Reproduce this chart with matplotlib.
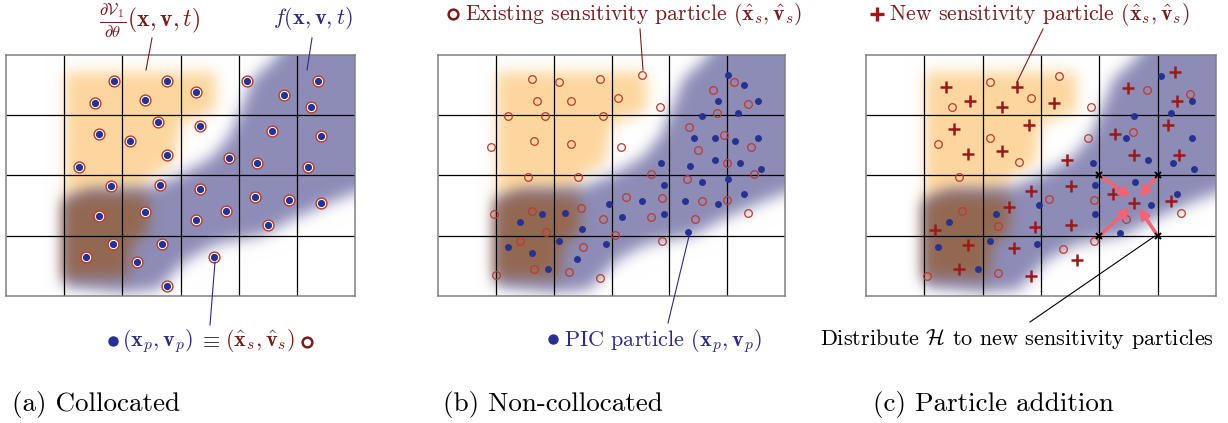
import numpy as np
import matplotlib
matplotlib.use("Agg")
import matplotlib.pyplot as plt
from matplotlib.path import Path

plt.rcParams['mathtext.fontset'] = 'cm'
plt.rcParams['font.family'] = 'cmr10'

# grid of cells (x: 6 columns, y: 4 rows)
ncols, nrows = 6, 4

# (a) collocated particles
a_x = [1.86, 2.76, 3.26, 1.53, 2.39, 4.15, 4.78, 5.36, 5.25, 2.62, 3.33, 1.60, 2.14,
       2.76, 4.58, 5.42, 1.25, 3.84, 4.32, 5.20, 1.80, 2.64, 3.33, 4.28, 4.86, 5.42,
       1.60, 2.39, 3.79, 3.26, 4.51, 1.84, 2.69, 1.38, 2.26, 3.57, 2.76]
a_y = [3.57, 3.57, 3.39, 3.21, 3.26, 3.57, 3.34, 3.57, 3.13, 2.89, 2.82, 2.69, 2.58,
       2.34, 2.74, 2.66, 2.14, 2.29, 2.21, 2.14, 1.83, 1.85, 1.77, 1.65, 1.59, 1.55,
       1.33, 1.39, 1.41, 1.26, 1.18, 0.86, 0.86, 0.64, 0.57, 0.64, 0.17]

# (b) sensitivity particles (circles) and PIC particles (dots)
b_circ_x = [1.62, 2.10, 2.80, 3.53, 1.71, 2.30, 3.11, 3.83, 1.21, 1.85, 2.85, 0.91, 1.66,
            2.30, 3.16, 1.56, 2.42, 0.97, 1.62, 2.47, 1.86, 1.41, 2.51, 2.85, 3.06, 1.66,
            2.26, 1.01, 2.80, 3.25, 3.68, 3.87, 3.68, 3.87, 4.76, 5.11, 5.36, 4.82, 4.34,
            4.94, 4.49, 5.41, 4.99, 5.46, 4.30, 4.57, 4.99, 4.44, 5.36]
b_circ_y = [3.60, 3.55, 3.60, 3.66, 3.23, 3.23, 3.28, 3.13, 2.98, 2.98, 2.98, 2.48, 2.57,
            2.52, 2.48, 1.97, 1.97, 1.36, 1.41, 1.46, 1.07, 0.92, 0.82, 1.27, 1.01, 0.45,
            0.40, 0.35, 0.30, 1.64, 2.03, 1.62, 1.31, 0.92, 3.42, 3.55, 3.18, 3.03, 2.80,
            2.67, 2.42, 2.48, 2.21, 2.03, 1.94, 1.57, 1.59, 1.27, 1.38]
b_dot_x = [5.02, 5.29, 4.84, 5.53, 4.57, 5.18, 4.42, 4.79, 5.14, 5.53, 3.85, 4.36, 4.79,
           5.23, 5.58, 3.90, 4.57, 5.02, 2.96, 3.53, 3.90, 4.27, 4.84, 5.29, 1.80, 2.19,
           1.41, 2.49, 3.18, 2.10, 2.90, 4.32, 1.21, 1.62, 2.40, 1.90]
b_dot_y = [3.66, 3.51, 3.24, 3.24, 2.98, 3.03, 2.63, 2.63, 2.58, 2.63, 2.21, 2.16, 2.26,
           2.21, 2.11, 1.85, 1.89, 1.94, 1.52, 1.57, 1.36, 1.57, 1.52, 1.70, 1.36, 1.37,
           1.23, 1.11, 1.31, 0.92, 0.87, 1.07, 0.82, 0.72, 0.61, 0.45]

# (c) new sensitivity particles (plus), existing (circles), PIC (dots)
c_plus_x = [1.37, 2.59, 1.78, 2.33, 3.22, 1.51, 2.79, 1.75, 2.33, 3.44, 4.49, 5.30, 5.33,
            4.27, 5.17, 4.60, 5.37, 3.52, 2.82, 4.24, 4.60, 5.22, 2.45, 1.19, 2.89, 3.52,
            1.75, 2.53, 3.61, 1.59, 2.82]
c_plus_y = [3.47, 3.47, 3.23, 3.13, 3.20, 2.78, 2.84, 2.36, 2.41, 2.25, 3.45, 3.71, 3.23,
            2.69, 2.84, 2.34, 2.34, 1.83, 1.75, 1.70, 1.55, 1.58, 1.48, 1.10, 1.15, 1.18,
            0.85, 0.79, 0.60, 0.44, 0.34]
c_circ_x = [2.12, 3.31, 1.48, 2.83, 3.86, 2.13, 1.24, 2.63, 1.59, 3.81, 4.81, 5.56, 4.57,
            1.64, 3.14, 3.91, 4.46, 2.27, 3.37, 3.91, 1.04, 2.27, 5.40]
c_circ_y = [3.55, 3.65, 3.13, 3.28, 3.13, 2.62, 2.52, 2.22, 1.97, 2.62, 3.42, 3.36, 2.72,
            1.41, 1.61, 1.60, 1.27, 1.16, 0.78, 0.91, 0.34, 0.39, 1.37]
c_dot_x = [5.05, 5.58, 4.60, 5.22, 4.45, 5.58, 3.89, 4.83, 5.27, 5.62, 3.93, 4.61, 2.97,
           2.22, 3.93, 4.89, 5.33, 1.43, 4.35, 1.23, 2.12, 2.93, 1.92]
c_dot_y = [3.65, 3.23, 2.98, 3.03, 2.63, 2.63, 2.21, 2.25, 2.21, 2.11, 1.84, 1.89, 1.51,
           1.36, 1.36, 1.51, 1.70, 1.22, 1.05, 0.81, 0.92, 0.86, 0.44]

# grid nodes that distribute H, and where their arrows point
node_x = [4, 5, 4, 5]
node_y = [2, 2, 1, 1]
head_x = [4.54, 4.68, 4.53, 4.68]
head_y = [1.64, 1.64, 1.47, 1.46]

# density blobs (cell units)
orange_poly = [(1.0, 3.7), (3.6, 3.7), (3.6, 3.05), (3.0, 2.85), (2.9, 2.2), (2.45, 1.95),
               (2.45, 0.3), (1.0, 0.3)]
purple_poly = [(1.0, 0.15), (2.0, 0.05), (2.6, 0.1), (3.1, 0.6), (3.6, 0.85), (4.4, 1.0),
               (5.0, 1.3), (5.6, 1.55), (6.4, 1.85), (6.4, 4.4), (5.0, 4.4), (4.6, 3.9),
               (4.25, 3.6), (4.05, 3.1), (3.85, 2.65), (3.55, 2.3), (3.0, 2.0), (2.5, 1.8),
               (1.5, 1.75), (1.0, 1.6)]
brown_poly = [(1.0, 0.3), (2.1, 0.3), (2.15, 0.85), (2.45, 1.05), (2.45, 1.65), (1.4, 1.72),
              (1.0, 1.55)]

orange = (0.99, 0.84, 0.62)
purple = (0.55, 0.55, 0.72)
brown = (0.58, 0.41, 0.32)
red_txt = '#7a1c1c'
blue_txt = '#2b2b86'
ring_red = '#c0392b'
dot_blue = '#27318f'
plus_red = '#9a1a1a'


def blob_image():
    xs = np.linspace(-0.5, 6.5, 421)
    ys = np.linspace(-0.5, 4.5, 301)
    X, Y = np.meshgrid(xs, ys)
    pts = np.column_stack([X.ravel(), Y.ravel()])
    step = xs[1] - xs[0]
    sigma = 0.12
    r = int(3 * sigma / step)
    k = np.exp(-0.5 * (np.arange(-r, r + 1) * step / sigma) ** 2)
    k /= k.sum()
    img = np.ones(X.shape + (3,))
    for poly, col in [(orange_poly, orange), (purple_poly, purple), (brown_poly, brown)]:
        m = Path(poly).contains_points(pts).reshape(X.shape).astype(float)
        m = np.apply_along_axis(lambda v: np.convolve(v, k, 'same'), 1, m)
        m = np.apply_along_axis(lambda v: np.convolve(v, k, 'same'), 0, m)
        a = m[..., None]
        img = img * (1 - a) + np.array(col) * a
    return img


W, H = 1228, 423
fig = plt.figure(figsize=(W / 100, H / 100), dpi=100)


def panel(left, right, top=55, bottom=296):
    ax = fig.add_axes([left / W, 1 - bottom / H, (right - left) / W, (bottom - top) / H])
    ax.imshow(blob, extent=(-0.5, 6.5, -0.5, 4.5), origin='lower', interpolation='bilinear',
              zorder=0)
    ax.vlines(range(1, ncols), 0, nrows, color='k', lw=0.9, zorder=1)
    ax.hlines(range(1, nrows), 0, ncols, color='k', lw=0.9, zorder=1)
    ax.set_xlim(0, ncols)
    ax.set_ylim(0, nrows)
    ax.set_aspect('auto')
    ax.set_xticks([])
    ax.set_yticks([])
    for s in ax.spines.values():
        s.set_color('#808080')
        s.set_linewidth(1.1)
    return ax


blob = blob_image()
ax_a = panel(6, 355)
ax_b = panel(438, 785)
ax_c = panel(866, 1216)

# (a)
ax_a.plot(a_x, a_y, 'o', ms=7.8, mfc='white', mec=ring_red, mew=1.0, zorder=3)
ax_a.plot(a_x, a_y, 'o', ms=5.2, color=dot_blue, mew=0, zorder=4)

# (b)
ax_b.plot(b_circ_x, b_circ_y, 'o', ms=5.5, mfc='none', mec=ring_red, mew=0.9, zorder=3)
ax_b.plot(b_dot_x, b_dot_y, 'o', ms=5, color=dot_blue, mew=0, zorder=4)

# (c)
ax_c.plot(c_circ_x, c_circ_y, 'o', ms=5.5, mfc='none', mec=ring_red, mew=0.9, zorder=3)
ax_c.plot(c_dot_x, c_dot_y, 'o', ms=5, color=dot_blue, mew=0, zorder=3)
ax_c.plot(c_plus_x, c_plus_y, '+', ms=8, color=plus_red, mew=1.8, zorder=4)
ax_c.plot(node_x, node_y, 'x', ms=4, color='k', mew=1.4, zorder=5)
for x0, y0, x1, y1 in zip(node_x, node_y, head_x, head_y):
    ax_c.annotate('', xy=(x1, y1), xytext=(x0, y0),
                  arrowprops=dict(arrowstyle='-|>', color='#f06474', lw=2.6,
                                  mutation_scale=14, shrinkA=2, shrinkB=0), zorder=4)

# annotation layer in pixel coordinates
ov = fig.add_axes([0, 0, 1, 1], zorder=10)
ov.set_xlim(0, W)
ov.set_ylim(H, 0)
ov.axis('off')

fs = 16
ov.text(150, 21, r'$\frac{\partial \mathcal{V}_1}{\partial \theta}(\mathbf{x},\mathbf{v},t)$',
        color=red_txt, fontsize=fs + 1, ha='center', va='center')
ov.text(313, 19, r'$f(\mathbf{x},\mathbf{v},t)$', color=blue_txt, fontsize=fs,
        ha='center', va='center')
ov.plot([152, 146], [38, 70], color=red_txt, lw=0.8)
ov.plot([312, 307], [38, 70], color=blue_txt, lw=0.8)
ov.plot([215, 210], [262, 325], color=blue_txt, lw=0.8)

ov.plot([113], [341], 'o', ms=6.5, color=dot_blue)
ov.text(122, 341, r'$(\mathbf{x}_p,\mathbf{v}_p)$', color=blue_txt, fontsize=fs,
        ha='left', va='center')
ov.text(210, 341, r'$\equiv$', color='#222222', fontsize=fs, ha='center', va='center')
ov.text(225, 341, r'$(\hat{\mathbf{x}}_s,\hat{\mathbf{v}}_s)$', color=red_txt, fontsize=fs,
        ha='left', va='center')
ov.plot([307], [342], 'o', ms=7, mfc='none', mec=red_txt, mew=1.8)

# (b) labels
top_y = 14
ov.plot([453], [top_y], 'o', ms=7, mfc='none', mec=red_txt, mew=1.8)
ov.text(465, top_y, r'Existing sensitivity particle $(\hat{\mathbf{x}}_s,\hat{\mathbf{v}}_s)$',
        color=red_txt, fontsize=fs - 0.3, ha='left', va='center')
ov.plot([640, 643], [29, 70], color=red_txt, lw=0.8)
ov.plot([689, 668], [236, 323], color=blue_txt, lw=0.8)
ov.plot([553], [339], 'o', ms=6.5, color=dot_blue)
ov.text(564, 341, r'PIC particle $(\mathbf{x}_p,\mathbf{v}_p)$', color=blue_txt,
        fontsize=fs, ha='left', va='center')

# (c) labels
ov.plot([877], [top_y], '+', ms=10, color=plus_red, mew=2.4)
ov.text(889, top_y, r'New sensitivity particle $(\hat{\mathbf{x}}_s,\hat{\mathbf{v}}_s)$',
        color=red_txt, fontsize=fs - 0.3, ha='left', va='center')
ov.plot([1043, 1017], [29, 82], color=red_txt, lw=0.8)
ov.plot([1155, 1030], [236, 322], color='k', lw=0.8)
ov.text(1017, 339, r'Distribute $\mathcal{H}$ to new sensitivity particles', color='k',
        fontsize=fs, ha='center', va='center')

# sub-captions
for x0, label in [(12, '(a) Collocated'), (443, '(b) Non-collocated'),
                  (873, '(c) Particle addition')]:
    ov.text(x0, 404, label, fontsize=19.5, ha='left', va='center', color='k')

fig.savefig('out.png', dpi=100)
